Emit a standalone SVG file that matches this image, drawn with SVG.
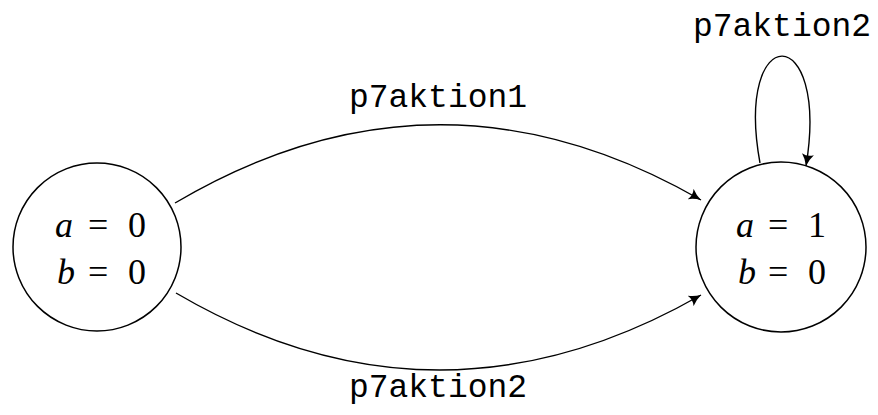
<svg xmlns="http://www.w3.org/2000/svg" width="878" height="415" viewBox="0 0 878 415">
<style>
.st{fill:#fff;stroke:#000;stroke-width:1.5}
.e{fill:none;stroke:#000;stroke-width:1.4}
.m{font-family:"Liberation Serif",serif;font-size:36px;fill:#000}
.i{font-style:italic}
.l{font-family:"Liberation Mono","DejaVu Sans Mono",monospace;font-size:33px;fill:#000;text-anchor:middle}
</style>
<defs>
<marker id="ah" markerWidth="14" markerHeight="12" refX="12" refY="6" orient="auto" markerUnits="userSpaceOnUse">
<path d="M0,0 Q5,4 12,6 Q5,8 0,12 Q3,6 0,0Z" fill="#000"/>
</marker>
</defs>
<rect width="878" height="415" fill="#fff"/>
<g id="s0">
<circle class="st" cx="97" cy="247" r="84"/>
<text class="m" y="237"><tspan class="i" x="55">a</tspan><tspan x="88">=</tspan><tspan x="128">0</tspan></text>
<text class="m" y="284"><tspan class="i" x="57">b</tspan><tspan x="88">=</tspan><tspan x="128">0</tspan></text>
</g>
<g id="s1">
<circle class="st" cx="781" cy="247" r="85"/>
<text class="m" y="237"><tspan class="i" x="736">a</tspan><tspan x="768">=</tspan><tspan x="808">1</tspan></text>
<text class="m" y="284"><tspan class="i" x="738">b</tspan><tspan x="768">=</tspan><tspan x="808">0</tspan></text>
</g>
<g id="edges">
<path class="e" d="M175,203 Q437,48 701,200" marker-end="url(#ah)"/>
<path class="e" d="M176,293 Q437,446 701,295" marker-end="url(#ah)"/>
<path class="e" d="M760,163 C734,20 830,20 806,166" marker-end="url(#ah)"/>
<text class="l" x="438" y="107">p7aktion1</text>
<text class="l" x="438" y="397">p7aktion2</text>
<text class="l" x="782" y="36">p7aktion2</text>
</g>
</svg>
